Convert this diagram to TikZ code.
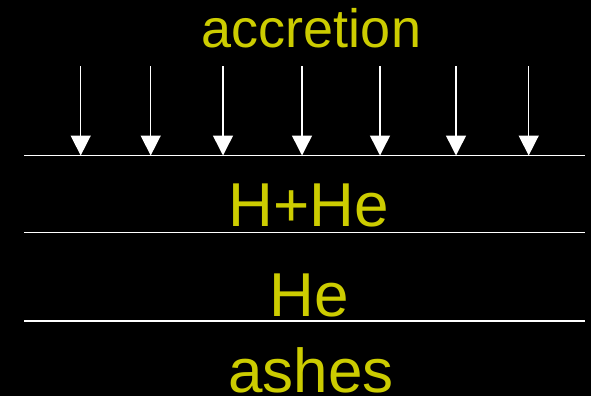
\documentclass[tikz,border=0pt]{standalone}
\usepackage{fontspec}
\setmainfont{Liberation Sans}
\usetikzlibrary{arrows.meta}
\definecolor{zoneyellow}{RGB}{204,204,0}
\begin{document}
\begin{tikzpicture}[x=1pt,y=-1pt,
  boundary/.style={white,line width=1.5pt},
  infall/.style={white,line width=1.5pt,-{Triangle[width=20pt,length=20pt]}},
  zonetext/.style={zoneyellow,anchor=base,inner sep=0pt,font=\fontsize{62}{62}\selectfont}]
\fill[black] (0,0) rectangle (591,396);
\useasboundingbox (0,0) rectangle (591,396);
% layer boundaries
\foreach \y [count=\i] in {155.5,232.5,321} {
  \coordinate (l\i) at (24,\y);
  \coordinate (r\i) at (585,\y);
  \draw[boundary] (l\i) -- (r\i);
}
% infalling matter
\foreach \x [count=\i] in {80.7,150.7,223,302,380,456,528.7} {
  \coordinate (top\i) at (\x,66);
  \coordinate (hit\i) at (\x,155.5);
  \draw[infall] (top\i) -- (hit\i);
}
\node[zonetext,font=\fontsize{54}{54}\selectfont] (accretion) at (311.5,47.5) {accretion};
\node[zonetext] (hhe) at (308.5,226.5) {H+He};
\node[zonetext] (he) at (309,316.5) {He};
\node[zonetext] (ashes) at (311,392) {ashes};
\end{tikzpicture}
\end{document}
